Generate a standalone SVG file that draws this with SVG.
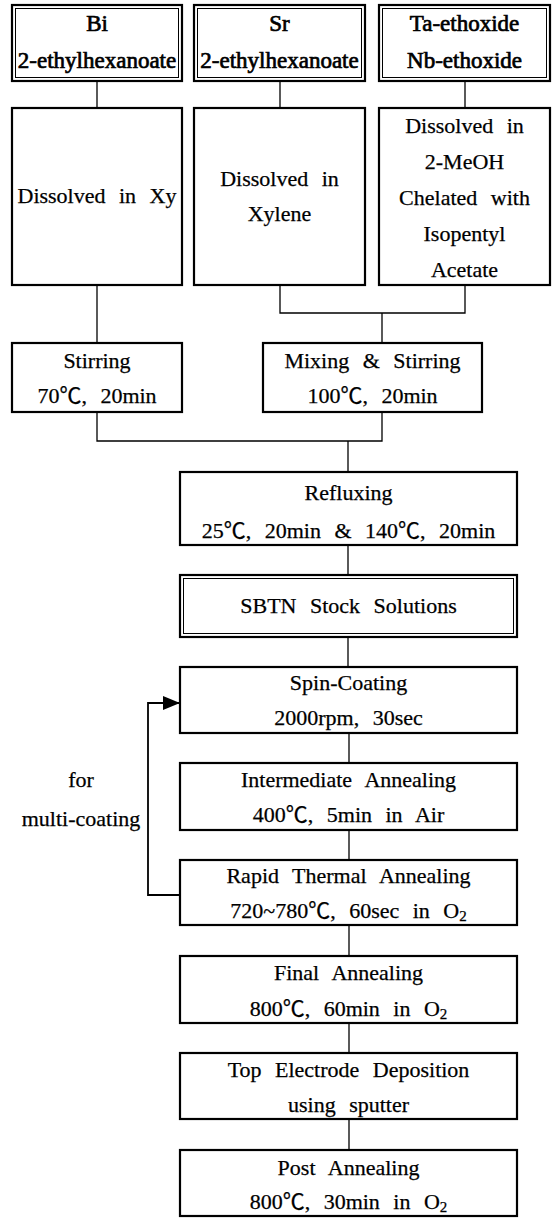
<svg xmlns="http://www.w3.org/2000/svg" width="554" height="1218" viewBox="0 0 554 1218">
<defs>
<style>
.bx{fill:#fff;stroke:#000;stroke-width:2.2}
.in{fill:none;stroke:#000;stroke-width:1}
.t{font-family:"Liberation Serif","Noto Sans CJK KR",serif;font-size:22px;word-spacing:8px;text-anchor:middle;fill:#000;stroke:#000;stroke-width:0.25}
.b{font-size:23px;word-spacing:0;stroke-width:0.7}
.c{fill:none;stroke:#000;stroke-width:1.3}
.sub{font-size:15px}
</style>
<marker id="ah" markerWidth="17" markerHeight="14" refX="17" refY="7" orient="auto" markerUnits="userSpaceOnUse">
<path d="M0,0 L17,7 L0,14 Z" fill="#000"/>
</marker>
</defs>
<rect width="554" height="1218" fill="#fff"/>
<g id="connectors">
<path class="c" d="M97,81 V108"/>
<path class="c" d="M280,81 V108"/>
<path class="c" d="M465,81 V108"/>
<path class="c" d="M97,285 V343"/>
<path class="c" d="M280,285 V313 H465 V285"/>
<path class="c" d="M382,313 V343"/>
<path class="c" d="M97,412 V441 H382 V412"/>
<path class="c" d="M348,441 V472"/>
<path class="c" d="M348,545 V575"/>
<path class="c" d="M348,637 V667"/>
<path class="c" d="M349,733 V763"/>
<path class="c" d="M349,830 V860"/>
<path class="c" d="M349,925 V956"/>
<path class="c" d="M349,1023 V1053"/>
<path class="c" d="M349,1119 V1150"/>
<path d="M180,895 H148 V703 H180" fill="none" stroke="#000" stroke-width="1.8" marker-end="url(#ah)"/>
</g>
<g id="bi">
<rect class="bx" x="12" y="5" width="170" height="76"/>
<rect class="in" x="15.5" y="8.5" width="163" height="69"/>
<text class="t b" x="97" y="31">Bi</text>
<text class="t b" x="97" y="68">2-ethylhexanoate</text>
</g>
<g id="sr">
<rect class="bx" x="194" y="5" width="171" height="76"/>
<rect class="in" x="197.5" y="8.5" width="164" height="69"/>
<text class="t b" x="279.5" y="31">Sr</text>
<text class="t b" x="279.5" y="68">2-ethylhexanoate</text>
</g>
<g id="ta">
<rect class="bx" x="379" y="5" width="171" height="76"/>
<rect class="in" x="382.5" y="8.5" width="164" height="69"/>
<text class="t b" x="464.5" y="31">Ta-ethoxide</text>
<text class="t b" x="464.5" y="68">Nb-ethoxide</text>
</g>
<g id="bi-dissolve">
<rect class="bx" x="12" y="108" width="170" height="177"/>
<text class="t" x="97" y="203">Dissolved in Xy</text>
</g>
<g id="sr-dissolve">
<rect class="bx" x="194" y="108" width="171" height="177"/>
<text class="t" x="279.5" y="186">Dissolved in</text>
<text class="t" x="279.5" y="221">Xylene</text>
</g>
<g id="ta-dissolve">
<rect class="bx" x="379" y="108" width="171" height="177"/>
<text class="t" x="464.5" y="133">Dissolved in</text>
<text class="t" x="464.5" y="169">2-MeOH</text>
<text class="t" x="464.5" y="205">Chelated with</text>
<text class="t" x="464.5" y="241">Isopentyl</text>
<text class="t" x="464.5" y="277">Acetate</text>
</g>
<g id="stirring">
<rect class="bx" x="12" y="343" width="170" height="69"/>
<text class="t" x="97" y="368">Stirring</text>
<text class="t" x="97" y="403">70℃, 20min</text>
</g>
<g id="mixing">
<rect class="bx" x="263" y="343" width="219" height="69"/>
<text class="t" x="372.5" y="368">Mixing &amp; Stirring</text>
<text class="t" x="372.5" y="403">100℃, 20min</text>
</g>
<g id="refluxing">
<rect class="bx" x="180" y="472" width="337" height="73"/>
<text class="t" x="348.5" y="500">Refluxing</text>
<text class="t" x="348.5" y="538">25℃, 20min &amp; 140℃, 20min</text>
</g>
<g id="sbtn">
<rect class="bx" x="180" y="575" width="337" height="62"/>
<rect class="in" x="183.5" y="578.5" width="330" height="55"/>
<text class="t" x="348.5" y="613">SBTN Stock Solutions</text>
</g>
<g id="spin">
<rect class="bx" x="180" y="667" width="337" height="66"/>
<text class="t" x="348.5" y="690">Spin-Coating</text>
<text class="t" x="348.5" y="725">2000rpm, 30sec</text>
</g>
<g id="intermediate">
<rect class="bx" x="180" y="763" width="337" height="67"/>
<text class="t" x="348.5" y="787">Intermediate Annealing</text>
<text class="t" x="348.5" y="822">400℃, 5min in Air</text>
</g>
<g id="rta">
<rect class="bx" x="180" y="860" width="337" height="65"/>
<text class="t" x="348.5" y="883">Rapid Thermal Annealing</text>
<text class="t" x="348.5" y="918">720~780℃, 60sec in O<tspan class="sub" dy="3">2</tspan></text>
</g>
<g id="final">
<rect class="bx" x="180" y="956" width="337" height="67"/>
<text class="t" x="348.5" y="980">Final Annealing</text>
<text class="t" x="348.5" y="1016">800℃, 60min in O<tspan class="sub" dy="3">2</tspan></text>
</g>
<g id="electrode">
<rect class="bx" x="180" y="1053" width="337" height="66"/>
<text class="t" x="348.5" y="1077">Top Electrode Deposition</text>
<text class="t" x="348.5" y="1112">using sputter</text>
</g>
<g id="post">
<rect class="bx" x="180" y="1150" width="337" height="66"/>
<text class="t" x="348.5" y="1175">Post Annealing</text>
<text class="t" x="348.5" y="1209">800℃, 30min in O<tspan class="sub" dy="3">2</tspan></text>
</g>
<g id="loop-label">
<text class="t" x="81" y="787">for</text>
<text class="t" x="81" y="826" style="word-spacing:0">multi-coating</text>
</g>
</svg>
